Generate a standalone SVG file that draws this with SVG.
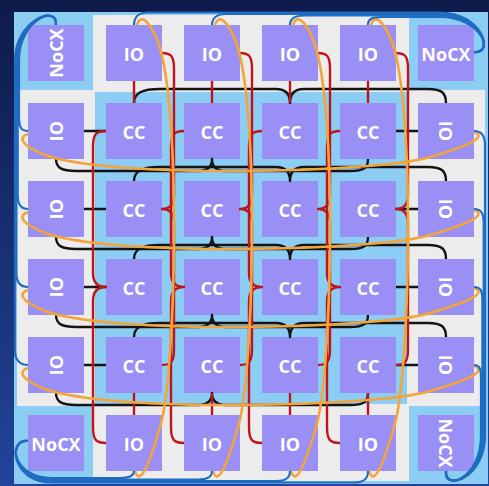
<svg xmlns="http://www.w3.org/2000/svg" width="489" height="486" viewBox="0 0 489 486">
<defs>
<linearGradient id="bg" x1="0" y1="0" x2="0" y2="1">
<stop offset="0" stop-color="#0e1a4a"/>
<stop offset="1" stop-color="#22449a"/>
</linearGradient>
<style>
.node rect{fill:#9a8ff5}
.node text{font-family:"Open Sans","Noto Sans","DejaVu Sans",sans-serif;font-weight:700;font-size:18px;fill:#ffffff;text-anchor:middle}
#connectors path{fill:none;stroke-linecap:butt;stroke-linejoin:round}
.blk{stroke:#141414;stroke-width:2.4}
.red{stroke:#c0141c;stroke-width:2.4}
.org{stroke:#f4a53a;stroke-width:2.6}
.blu{stroke:#1f6dc2;stroke-width:2.2}
.lb{fill:#8ccdf4}
.gr{fill:#ececec}
</style>
</defs>
<rect x="0" y="0" width="489" height="486" fill="url(#bg)"/>
<g id="panel">
<rect class="lb" x="14" y="12" width="474" height="472"/>
<rect class="gr" x="17" y="15" width="468" height="466"/>
<rect class="lb" x="14" y="12" width="79" height="78"/>
<rect class="lb" x="409" y="12" width="79" height="78"/>
<rect class="lb" x="14" y="406" width="79" height="78"/>
<rect class="lb" x="409" y="406" width="79" height="78"/>
<rect class="lb" x="95" y="92" width="312" height="312"/>
</g>
<g id="nodes">
<g id="nocx-tl" class="node"><rect x="28" y="25" width="56" height="56"/><text transform="translate(56,53) rotate(-90)" y="7">NoCX</text></g>
<g id="io-t1" class="node"><rect x="106" y="25" width="56" height="56"/><text x="134" y="61">IO</text></g>
<g id="io-t2" class="node"><rect x="184" y="25" width="56" height="56"/><text x="212" y="61">IO</text></g>
<g id="io-t3" class="node"><rect x="262" y="25" width="56" height="56"/><text x="290" y="61">IO</text></g>
<g id="io-t4" class="node"><rect x="340" y="25" width="56" height="56"/><text x="368" y="61">IO</text></g>
<g id="nocx-tr" class="node"><rect x="418" y="25" width="56" height="56"/><text x="446" y="61">NoCX</text></g>

<g id="io-l1" class="node"><rect x="28" y="103" width="56" height="56"/><text transform="translate(56,131) rotate(-90)" y="7">IO</text></g>
<g id="cc-11" class="node"><rect x="106" y="103" width="56" height="56"/><text x="134" y="139">CC</text></g>
<g id="cc-12" class="node"><rect x="184" y="103" width="56" height="56"/><text x="212" y="139">CC</text></g>
<g id="cc-13" class="node"><rect x="262" y="103" width="56" height="56"/><text x="290" y="139">CC</text></g>
<g id="cc-14" class="node"><rect x="340" y="103" width="56" height="56"/><text x="368" y="139">CC</text></g>
<g id="io-r1" class="node"><rect x="418" y="103" width="56" height="56"/><text transform="translate(446,131) rotate(90)" y="7">IO</text></g>

<g id="io-l2" class="node"><rect x="28" y="181" width="56" height="56"/><text transform="translate(56,209) rotate(-90)" y="7">IO</text></g>
<g id="cc-21" class="node"><rect x="106" y="181" width="56" height="56"/><text x="134" y="217">CC</text></g>
<g id="cc-22" class="node"><rect x="184" y="181" width="56" height="56"/><text x="212" y="217">CC</text></g>
<g id="cc-23" class="node"><rect x="262" y="181" width="56" height="56"/><text x="290" y="217">CC</text></g>
<g id="cc-24" class="node"><rect x="340" y="181" width="56" height="56"/><text x="368" y="217">CC</text></g>
<g id="io-r2" class="node"><rect x="418" y="181" width="56" height="56"/><text transform="translate(446,209) rotate(90)" y="7">IO</text></g>

<g id="io-l3" class="node"><rect x="28" y="259" width="56" height="56"/><text transform="translate(56,287) rotate(-90)" y="7">IO</text></g>
<g id="cc-31" class="node"><rect x="106" y="259" width="56" height="56"/><text x="134" y="295">CC</text></g>
<g id="cc-32" class="node"><rect x="184" y="259" width="56" height="56"/><text x="212" y="295">CC</text></g>
<g id="cc-33" class="node"><rect x="262" y="259" width="56" height="56"/><text x="290" y="295">CC</text></g>
<g id="cc-34" class="node"><rect x="340" y="259" width="56" height="56"/><text x="368" y="295">CC</text></g>
<g id="io-r3" class="node"><rect x="418" y="259" width="56" height="56"/><text transform="translate(446,287) rotate(90)" y="7">IO</text></g>

<g id="io-l4" class="node"><rect x="28" y="337" width="56" height="56"/><text transform="translate(56,365) rotate(-90)" y="7">IO</text></g>
<g id="cc-41" class="node"><rect x="106" y="337" width="56" height="56"/><text x="134" y="373">CC</text></g>
<g id="cc-42" class="node"><rect x="184" y="337" width="56" height="56"/><text x="212" y="373">CC</text></g>
<g id="cc-43" class="node"><rect x="262" y="337" width="56" height="56"/><text x="290" y="373">CC</text></g>
<g id="cc-44" class="node"><rect x="340" y="337" width="56" height="56"/><text x="368" y="373">CC</text></g>
<g id="io-r4" class="node"><rect x="418" y="337" width="56" height="56"/><text transform="translate(446,365) rotate(90)" y="7">IO</text></g>

<g id="nocx-bl" class="node"><rect x="28" y="415" width="56" height="56"/><text x="56" y="451">NoCX</text></g>
<g id="io-b1" class="node"><rect x="106" y="415" width="56" height="56"/><text x="134" y="451">IO</text></g>
<g id="io-b2" class="node"><rect x="184" y="415" width="56" height="56"/><text x="212" y="451">IO</text></g>
<g id="io-b3" class="node"><rect x="262" y="415" width="56" height="56"/><text x="290" y="451">IO</text></g>
<g id="io-b4" class="node"><rect x="340" y="415" width="56" height="56"/><text x="368" y="451">IO</text></g>
<g id="nocx-br" class="node"><rect x="418" y="415" width="56" height="56"/><text transform="translate(446,443) rotate(90)" y="7">NoCX</text></g>
</g>
<g id="connectors">
<g class="blk">
<path d="M84,131H106M84,209H106M84,287H106M84,365H106"/>
<path d="M396,131H418M396,209H418M396,287H418M396,365H418"/>
<path d="M134,103 C134,93 142,89 160,89 H276 Q290,89 290,103 Q290,89 304,89 H428 C442,89 446,93 446,103"/>
<path d="M134,181 C134,171 142,167 160,167 H276 Q290,167 290,181 Q290,167 304,167 H428 C442,167 446,171 446,181"/>
<path d="M134,259 C134,249 142,245 160,245 H276 Q290,245 290,259 Q290,245 304,245 H428 C442,245 446,249 446,259"/>
<path d="M134,337 C134,327 142,323 160,323 H276 Q290,323 290,337 Q290,323 304,323 H428 C442,323 446,327 446,337"/>
<path d="M56,159 C56,168 62,171 76,171 H198 Q212,171 212,159 Q212,171 226,171 H350 C364,171 368,168 368,159"/>
<path d="M56,237 C56,246 62,249 76,249 H198 Q212,249 212,237 Q212,249 226,249 H350 C364,249 368,246 368,237"/>
<path d="M56,315 C56,324 62,327 76,327 H198 Q212,327 212,315 Q212,327 226,327 H350 C364,327 368,324 368,315"/>
<path d="M56,393 C56,402 62,405 76,405 H198 Q212,405 212,393 Q212,405 226,405 H350 C364,405 368,402 368,393"/>
</g>
<g class="red">
<path d="M134,81V103M212,81V103M290,81V103M368,81V103"/>
<path d="M134,393V415M212,393V415M290,393V415M368,393V415"/>
<path d="M106,131 C96,131 93,134 93,147 V273 Q93,287 106,287 Q93,287 93,301 V427 C93,440 96,443 106,443"/>
<path d="M184,131 C174,131 171,134 171,147 V273 Q171,287 184,287 Q171,287 171,301 V427 C171,440 174,443 184,443"/>
<path d="M262,131 C252,131 249,134 249,147 V273 Q249,287 262,287 Q249,287 249,301 V427 C249,440 252,443 262,443"/>
<path d="M340,131 C330,131 327,134 327,147 V273 Q327,287 340,287 Q327,287 327,301 V427 C327,440 330,443 340,443"/>
<path d="M162,53 C171,53 174,56 174,69 V195 Q174,209 162,209 Q174,209 174,223 V349 C174,362 171,365 162,365"/>
<path d="M240,53 C249,53 252,56 252,69 V195 Q252,209 240,209 Q252,209 252,223 V349 C252,362 249,365 240,365"/>
<path d="M318,53 C327,53 330,56 330,69 V195 Q330,209 318,209 Q330,209 330,223 V349 C330,362 327,365 318,365"/>
<path d="M396,53 C405,53 408,56 408,69 V195 Q408,209 396,209 Q408,209 408,223 V349 C408,362 405,365 396,365"/>
</g>
<g class="org">
<path d="M28,134 C18,137 20,145 45,155 C110,179 380,173 430,157 C465,147 489,137 474,132"/>
<path d="M28,212 C18,215 20,223 45,233 C110,257 380,251 430,235 C465,225 489,215 474,210"/>
<path d="M28,290 C18,293 20,301 45,311 C110,335 380,329 430,313 C465,303 489,293 474,288"/>
<path d="M28,368 C18,371 20,379 45,389 C110,413 380,407 430,391 C465,381 489,371 474,366"/>
<path d="M137,25 C140,15 148,17 158,42 C182,107 176,377 160,427 C150,462 140,488 135,471"/>
<path d="M215,25 C218,15 226,17 236,42 C260,107 254,377 238,427 C228,462 218,488 213,471"/>
<path d="M293,25 C296,15 304,17 314,42 C338,107 332,377 316,427 C306,462 296,488 291,471"/>
<path d="M371,25 C374,15 382,17 392,42 C416,107 410,377 394,427 C384,462 374,488 369,471"/>
</g>
<g class="blu">
<path d="M28,131 C21,131 19,127 19,117 V60 C19,20 58,4 56,25"/>
<path d="M28,209 C21,209 17.7,205 17.7,195 V60 C17.7,20 58,4 56,25"/>
<path d="M28,287 C21,287 16.4,283 16.4,273 V60 C16.4,20 58,4 56,25"/>
<path d="M28,365 C21,365 15,361 15,351 V60 C15,20 58,4 56,25"/>
<path d="M134,25 C134,18 138,12.5 148,12.5 H440 C482,12.5 495,54 474,52"/>
<path d="M212,25 C212,19 216,14 226,14 H440 C482,14 495,54 474,52"/>
<path d="M290,25 C290,19 294,15.5 304,15.5 H440 C482,15.5 495,54 474,52"/>
<path d="M368,25 C368,19 372,17 382,17 H440 C482,17 495,54 474,52"/>
<path d="M474,131 C481,131 485,135 485,145 V436 C485,478 444,492 446,471"/>
<path d="M474,209 C481,209 483.7,213 483.7,223 V436 C483.7,478 444,492 446,471"/>
<path d="M474,287 C481,287 482.4,291 482.4,301 V436 C482.4,478 444,492 446,471"/>
<path d="M474,365 C480,365 481,369 481,379 V436 C481,478 444,492 446,471"/>
<path d="M134,471 C134,476 130,478 120,478 H52 C12,478 7,439 28,441"/>
<path d="M212,471 C212,477 208,479.5 198,479.5 H52 C12,479.5 7,439 28,441"/>
<path d="M290,471 C290,478 286,481 276,481 H52 C12,481 7,439 28,441"/>
<path d="M368,471 C368,479 364,482.5 354,482.5 H52 C12,482.5 7,439 28,441"/>
</g>
</g>
</svg>
